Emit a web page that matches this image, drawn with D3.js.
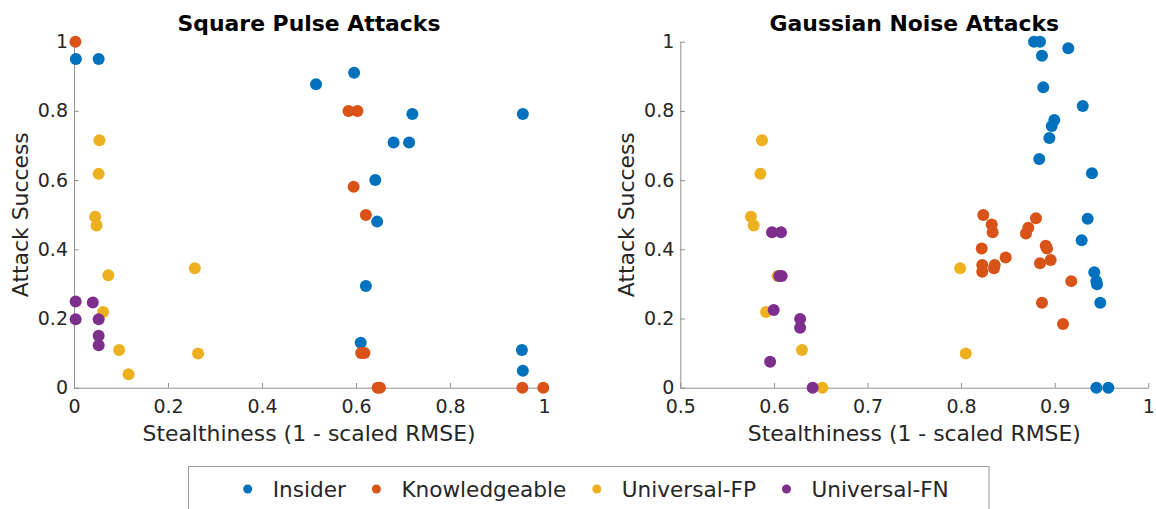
<!DOCTYPE html>
<html>
<head>
<meta charset="utf-8">
<script src="https://cdn.jsdelivr.net/npm/d3@7"></script>
<style>
  body { margin: 0; background: #fff; }
  text { font-family: 'DejaVu Sans', sans-serif; fill: #262626; }
  .axis path, .axis line { stroke: #8f8f8f; }
  .axis text { font-size: 19px; fill: #262626; }
</style>
</head>
<body>
<div id="chart"></div>
<script>
// series names and colours
let seriesNames = ['Insider', 'Knowledgeable', 'Universal-FP', 'Universal-FN']
let seriesColors = ['#0072BD', '#D95319', '#EDB120', '#7E2F8E']

// Square pulse attacks: [stealthiness, attack success]
let squareInsider = [[0.004,0.95],[0.0525,0.95],[0.515,0.877],[0.596,0.91],[0.641,0.6],[0.645,0.48],
  [0.621,0.294],[0.61,0.13],[0.68,0.709],[0.713,0.709],[0.72,0.791],[0.955,0.791],[0.953,0.109],[0.955,0.049]]
let squareKnowledgeable = [[0.003,1.0],[0.584,0.8],[0.603,0.8],[0.595,0.581],[0.621,0.499],[0.611,0.1],
  [0.618,0.1],[0.646,0],[0.651,0],[0.954,0],[0.9985,0]]
let squareUniversalFP = [[0.054,0.715],[0.0525,0.618],[0.045,0.494],[0.048,0.469],[0.073,0.325],[0.062,0.219],
  [0.096,0.109],[0.116,0.039],[0.257,0.345],[0.264,0.099]]
let squareUniversalFN = [[0.0035,0.249],[0.0035,0.198],[0.04,0.246],[0.0525,0.198],[0.0525,0.15],[0.0525,0.123]]

// Gaussian noise attacks
let gaussInsider = [[0.8779,1.0],[0.8843,1.0],[0.9145,0.981],[0.8864,0.9595],[0.8878,0.868],[0.930,0.814],
  [0.8996,0.774],[0.8968,0.756],[0.8943,0.7217],[0.8835,0.661],[0.9398,0.6197],[0.9352,0.488],[0.9288,0.426],
  [0.9423,0.3335],[0.9445,0.308],[0.9452,0.299],[0.9487,0.2457],[0.9445,0],[0.9573,0]]
let gaussKnowledgeable = [[0.8237,0.499],[0.8327,0.472],[0.8337,0.449],[0.880,0.49],[0.8718,0.462],[0.8693,0.446],
  [0.822,0.402],[0.8904,0.41],[0.8918,0.402],[0.8476,0.376],[0.8957,0.369],[0.8843,0.3595],[0.8226,0.3546],
  [0.8359,0.3546],[0.8226,0.335],[0.8351,0.345],[0.9177,0.308],[0.8864,0.2457],[0.9089,0.184]]
let gaussUniversalFP = [[0.5873,0.715],[0.5855,0.618],[0.5755,0.494],[0.5784,0.469],[0.604,0.323],[0.5916,0.219],
  [0.630,0.109],[0.6517,0],[0.799,0.345],[0.805,0.099]]
let gaussUniversalFN = [[0.598,0.449],[0.6076,0.449],[0.6058,0.323],[0.6083,0.323],[0.5998,0.2246],[0.628,0.1985],
  [0.628,0.173],[0.596,0.075],[0.6414,0]]

// tick values
let yTicks = [0, 0.2, 0.4, 0.6, 0.8, 1]
let squareXTicks = [0, 0.2, 0.4, 0.6, 0.8, 1]
let gaussXTicks = [0.5, 0.6, 0.7, 0.8, 0.9, 1]

let panels = [
  { title: 'Square Pulse Attacks', domain: [0, 1], range: [74, 544], xTicks: squareXTicks,
    series: [squareInsider, squareKnowledgeable, squareUniversalFP, squareUniversalFN] },
  { title: 'Gaussian Noise Attacks', domain: [0.5, 1], range: [680.3, 1148.3], xTicks: gaussXTicks,
    series: [gaussInsider, gaussKnowledgeable, gaussUniversalFP, gaussUniversalFN] }
]

let width = 1156
let height = 509
let plotTop = 41.7
let plotBottom = 387.7
let tickLen = 4.7

let svg = d3.select('#chart').append('svg')
  .attr('width', width)
  .attr('height', height)

let fmt = d => d3.format('~g')(d)

let yScale = d3.scaleLinear().domain([0, 1]).range([plotBottom, plotTop])

panels.forEach(p => {
  let xScale = d3.scaleLinear().domain(p.domain).range(p.range)
  let g = svg.append('g')
  let cx = (p.range[0] + p.range[1]) / 2

  g.append('g')
    .attr('class', 'axis')
    .attr('transform', `translate(0,${plotBottom})`)
    .call(d3.axisBottom(xScale).tickValues(p.xTicks).tickFormat(fmt)
      .tickSizeInner(-tickLen).tickSizeOuter(0).tickPadding(11.8))

  g.append('g')
    .attr('class', 'axis')
    .attr('transform', `translate(${p.range[0]},0)`)
    .call(d3.axisLeft(yScale).tickValues(yTicks).tickFormat(fmt)
      .tickSizeInner(-tickLen).tickSizeOuter(0).tickPadding(6))

  g.selectAll('.axis text').attr('font-family', "'DejaVu Sans', sans-serif")

  g.append('text')
    .attr('x', cx)
    .attr('y', 31)
    .attr('text-anchor', 'middle')
    .style('font-size', '21.9px')
    .style('font-weight', 'bold')
    .style('fill', '#000')
    .text(p.title)

  g.append('text')
    .attr('x', cx)
    .attr('y', 440.7)
    .attr('text-anchor', 'middle')
    .style('font-size', '21.9px')
    .text('Stealthiness (1 - scaled RMSE)')

  g.append('text')
    .attr('transform', `translate(${p.range[0] - 46},${(plotTop + plotBottom) / 2}) rotate(-90)`)
    .attr('text-anchor', 'middle')
    .style('font-size', '21.9px')
    .text('Attack Success')

  p.series.forEach((s, i) => {
    g.append('g').selectAll('circle')
      .data(s)
      .enter().append('circle')
        .attr('cx', d => xScale(d[0]))
        .attr('cy', d => yScale(d[1]))
        .attr('r', 6)
        .style('fill', seriesColors[i])
  })
})

// legend
let legend = svg.append('g')
legend.append('rect')
  .attr('x', 188.5)
  .attr('y', 466.5)
  .attr('width', 800.5)
  .attr('height', 60)
  .style('fill', '#fff')
  .style('stroke', '#9a9a9a')

let lx = 247.7
seriesNames.forEach((name, i) => {
  legend.append('circle')
    .attr('cx', lx)
    .attr('cy', 489)
    .attr('r', 4.5)
    .style('fill', seriesColors[i])
  let t = legend.append('text')
    .attr('x', lx + 25)
    .attr('y', 496.7)
    .style('font-size', '21.6px')
    .text(name)
  lx += 25 + t.node().getComputedTextLength() + 30.5
})
</script>
</body>
</html>
